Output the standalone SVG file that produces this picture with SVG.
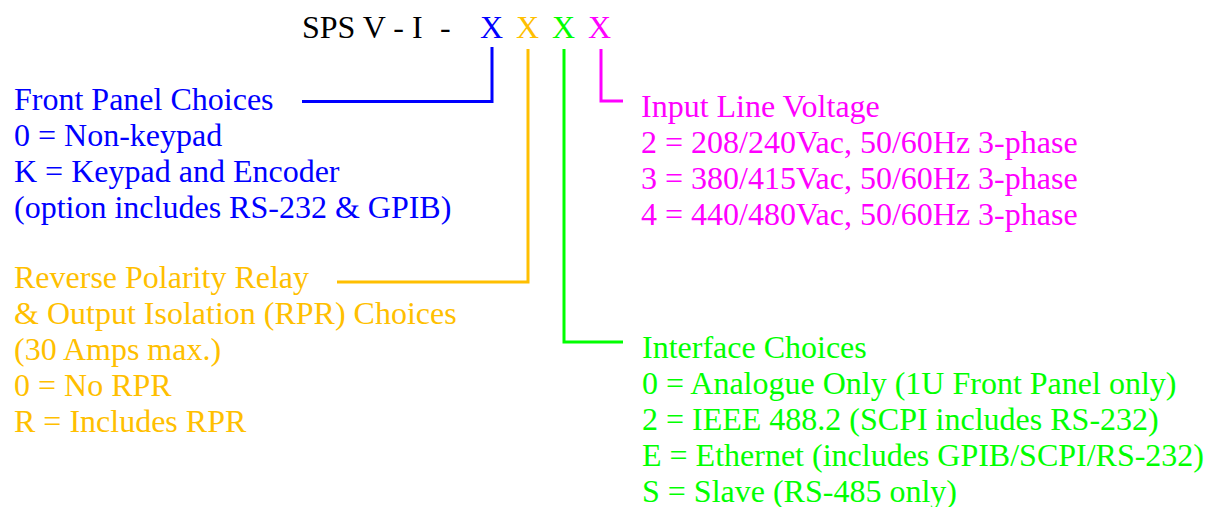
<svg xmlns="http://www.w3.org/2000/svg" width="1218" height="507" viewBox="0 0 1218 507">
<style>
text{font-family:"Liberation Serif","Times New Roman",serif;font-size:32px}
.b{fill:#0000FF}.o{fill:#FFBF00}.g{fill:#00FF00}.m{fill:#FF00FF}.k{fill:#000000}
.c{fill:none;stroke-width:3;stroke-linejoin:miter}
</style>
<rect width="1218" height="507" fill="#FFFFFF"/>
<g id="title">
<text class="k" x="302" y="38">SPS V - I</text>
<text class="k" x="440" y="38">-</text>
<text class="b" x="480" y="38">X</text>
<text class="o" x="516" y="38">X</text>
<text class="g" x="552" y="38">X</text>
<text class="m" x="588" y="38">X</text>
</g>
<g id="connectors">
<polyline class="c" stroke="#0000FF" points="492,47 492,101.5 302,101.5"/>
<polyline class="c" stroke="#FFBF00" points="528,49 528,282 337,282"/>
<polyline class="c" stroke="#00FF00" points="564,49 564,342 623,342"/>
<polyline class="c" stroke="#FF00FF" points="601,49 601,101 623,101"/>
</g>
<g id="front-panel" class="b">
<text x="14" y="110">Front Panel Choices</text>
<text x="14" y="146">0 = Non-keypad</text>
<text x="14" y="182">K = Keypad and Encoder</text>
<text x="14" y="218">(option includes RS-232 &amp; GPIB)</text>
</g>
<g id="rpr" class="o">
<text x="14" y="288">Reverse Polarity Relay</text>
<text x="14" y="324">&amp; Output Isolation (RPR) Choices</text>
<text x="14" y="360">(30 Amps max.)</text>
<text x="14" y="396">0 = No RPR</text>
<text x="14" y="432">R = Includes RPR</text>
</g>
<g id="interface" class="g">
<text x="642" y="358">Interface Choices</text>
<text x="642" y="394">0 = Analogue Only (1U Front Panel only)</text>
<text x="642" y="430">2 = IEEE 488.2 (SCPI includes RS-232)</text>
<text x="642" y="466">E = Ethernet (includes GPIB/SCPI/RS-232)</text>
<text x="642" y="502">S = Slave (RS-485 only)</text>
</g>
<g id="input-voltage" class="m">
<text x="641" y="117">Input Line Voltage</text>
<text x="641" y="153">2 = 208/240Vac, 50/60Hz 3-phase</text>
<text x="641" y="189">3 = 380/415Vac, 50/60Hz 3-phase</text>
<text x="641" y="225">4 = 440/480Vac, 50/60Hz 3-phase</text>
</g>
</svg>
